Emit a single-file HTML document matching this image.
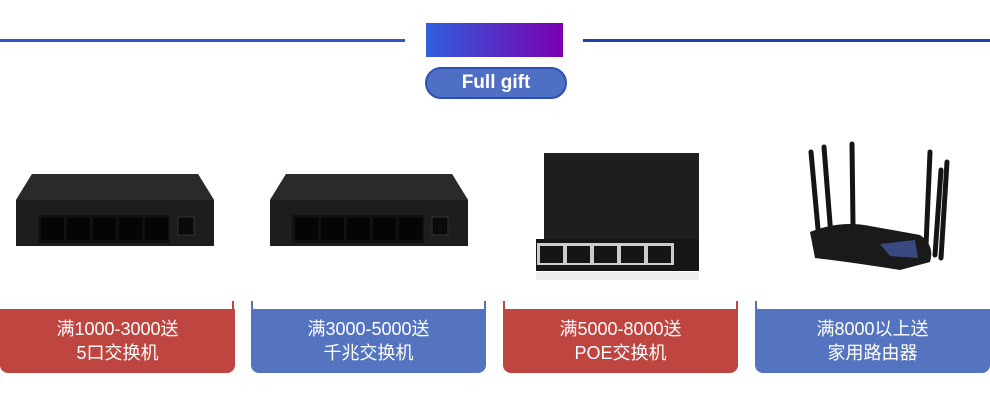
<!DOCTYPE html>
<html><head><meta charset="utf-8"><style>
body{margin:0;width:990px;height:417px;background:#fff;overflow:hidden;position:relative;font-family:"Liberation Sans","Noto Sans CJK SC",sans-serif}
.ln{position:absolute;height:3px;top:39px}
.box{position:absolute;top:309px;height:64px;width:235px;color:#fff;text-align:center;font-size:18px;line-height:24px;padding-top:8px;box-sizing:border-box;border-radius:0 0 8px 8px}
.r{background:#bf4540}.b{background:#5474c0}
.tick{position:absolute;top:301px;width:2px;height:9px}
</style></head><body>
<div class="ln" style="left:0;width:405px;background:#2f57c8"></div>
<div class="ln" style="left:583px;width:407px;background:#1e3fb0"></div>
<div style="position:absolute;left:426px;top:23px;width:137px;height:34px;background:linear-gradient(90deg,#2f5fdc,#7a00b0)"></div>
<div style="position:absolute;left:425px;top:67px;width:142px;height:32px;border-radius:16px;background:#4f6fc4;border:2px solid #2c4fb8;box-sizing:border-box;color:#fff;font-weight:bold;font-size:19px;text-align:center;line-height:28px">Full gift</div>
<svg style="position:absolute;left:0;top:0" width="990" height="300">
<g id="s1">
<path d="M32 174 L198 174 L214 200 L214 246 L16 246 L16 200 Z" fill="#1d1d1d"/>
<path d="M32 174 L198 174 L214 200 L16 200 Z" fill="#2a2a2a"/>
<rect x="38" y="215" width="132" height="28" fill="#111"/>
<g fill="#050505"><rect x="41" y="218" width="23" height="22"/><rect x="67" y="218" width="23" height="22"/><rect x="93" y="218" width="23" height="22"/><rect x="119" y="218" width="23" height="22"/><rect x="145" y="218" width="23" height="22"/></g>
<rect x="178" y="217" width="16" height="18" fill="#0a0a0a" stroke="#333"/>
</g>
<use href="#s1" x="254"/>
<rect x="544" y="153" width="155" height="86" fill="#1e1e1e"/>
<rect x="536" y="239" width="163" height="32" fill="#161616"/>
<rect x="537" y="243" width="137" height="22" fill="#ccc"/>
<g fill="#151515"><rect x="540" y="246" width="23" height="17"/><rect x="567" y="246" width="23" height="17"/><rect x="594" y="246" width="23" height="17"/><rect x="621" y="246" width="23" height="17"/><rect x="648" y="246" width="23" height="17"/></g>
<rect x="536" y="272" width="163" height="8" fill="#eee"/>
<g stroke="#151515" stroke-width="5" stroke-linecap="round">
<line x1="811" y1="152" x2="819" y2="240"/><line x1="824" y1="147" x2="831" y2="236"/><line x1="852" y1="144" x2="853" y2="225"/>
<line x1="930" y1="152" x2="926" y2="246"/><line x1="941" y1="170" x2="935" y2="255"/><line x1="947" y1="162" x2="941" y2="258"/>
</g>
<path d="M810 232 Q840 220 870 226 L920 235 Q935 245 930 262 L900 270 Q850 262 815 258 Z" fill="#1a1a1a"/>
<path d="M880 244 L915 240 L918 258 L890 256 Z" fill="#3a4a80"/>
</svg>
<div class="box r" style="left:0">满1000-3000送<br>5口交换机</div>
<div class="box b" style="left:251px">满3000-5000送<br>千兆交换机</div>
<div class="box r" style="left:503px">满5000-8000送<br>POE交换机</div>
<div class="box b" style="left:755px">满8000以上送<br>家用路由器</div>
<div class="tick" style="left:232px;background:#bf4540"></div>
<div class="tick" style="left:251px;background:#5474c0"></div>
<div class="tick" style="left:484px;background:#5474c0"></div>
<div class="tick" style="left:503px;background:#bf4540"></div>
<div class="tick" style="left:736px;background:#bf4540"></div>
<div class="tick" style="left:755px;background:#5474c0"></div>
</body></html>
